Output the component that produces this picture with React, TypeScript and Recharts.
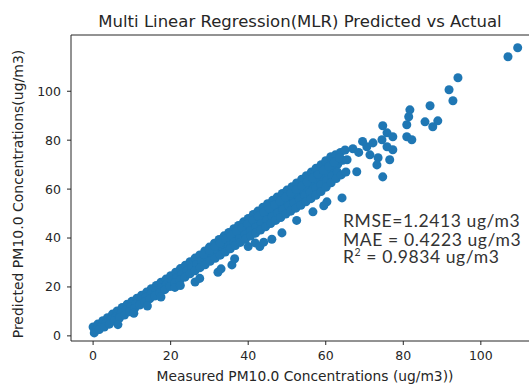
import {
  ReferenceLine,
  Scatter,
  ScatterChart,
  XAxis,
  YAxis,
  ZAxis,
} from "recharts";

const BLUE = "#1f77b4";
const INK = "#262626";
const FONT = "'DejaVu Sans', sans-serif";

// [measured, predicted]
const upperEdge: [number, number][] = [
  [0, 3.6], [1.2, 4.8], [2.5, 6.2], [3.7, 7.4], [5, 8.9], [6.2, 10.2], [7.5, 11.6],
  [8.8, 12.9], [10, 14.1], [11.3, 15.4], [12.5, 16.6], [13.8, 17.9], [15, 19.3],
  [16.3, 20.6], [17.5, 21.9], [18.8, 23.2], [20, 24.6], [21.3, 26.0], [22.5, 27.5],
  [23.8, 28.9], [25, 30.3], [26.3, 31.8], [27.5, 33.1], [28.8, 34.7], [30, 36.3],
  [31.3, 37.9], [32.5, 39.4], [33.8, 40.9], [35, 42.3], [36.3, 43.8], [37.5, 45.1],
  [38.8, 46.6], [40, 48], [41.3, 49.6], [42.5, 51], [43.8, 52.6], [45, 54],
  [46.3, 55.4], [47.5, 56.8], [48.8, 58.2], [50, 59.6], [51.3, 61], [52.5, 62.5],
  [53.8, 64], [55, 65.5], [56.3, 67], [57.5, 68.5], [58.8, 70], [60, 71.6],
  [61.3, 73.2], [62.5, 74], [63.8, 75], [65, 76],
];

const middleA: [number, number][] = [
  [0.7, 2.4], [2, 3.8], [3.3, 5.2], [4.6, 6.6], [5.9, 7.9], [7.2, 9.3], [8.5, 10.6],
  [9.8, 12], [11.1, 13.2], [12.4, 14.6], [13.7, 15.9], [15, 17.2], [16.3, 18.5],
  [17.6, 19.8], [18.9, 21.1], [20.2, 22.4], [21.5, 23.7], [22.8, 25.1], [24.1, 26.5],
  [25.4, 27.9], [26.7, 29.2], [28, 30.7], [29.3, 32.1], [30.6, 33.5], [31.9, 34.9],
  [33.2, 36.3], [34.5, 37.8], [35.8, 39.2], [37.1, 40.6], [38.4, 42.1], [39.7, 43.5],
  [41, 45], [42.3, 46.4], [43.6, 47.8], [44.9, 49.3], [46.2, 50.7], [47.5, 52.1],
  [48.8, 53.5], [50.1, 55], [51.4, 56.4], [52.7, 57.8], [54, 59.2], [55.3, 60.7],
  [56.6, 62.1], [57.9, 63.6], [59.2, 65.1], [60.5, 66.8], [61.8, 68.5], [63.1, 70.2],
  [64.4, 71.8],
];

const middleB: [number, number][] = [
  [28.5, 33.4], [30, 35], [31.4, 36.5], [32.8, 38], [34.2, 39.6], [35.6, 41.1],
  [37, 42.7], [38.4, 44.3], [39.8, 45.8], [41.2, 47.3], [42.6, 48.9], [44, 50.5],
  [45.4, 52], [46.8, 53.6], [48.2, 55.1], [49.6, 56.7], [51, 58.2], [52.4, 59.8],
  [53.8, 61.3], [55.2, 62.9], [56.6, 64.5], [58, 66], [59.4, 67.7], [60.8, 69.3],
  [62.2, 71], [63.6, 72.8],
];

const middleC: [number, number][] = [
  [35, 36.8], [36.4, 38.3], [37.8, 39.8], [39.2, 41.4], [40.6, 43], [42, 44.4],
  [43.4, 45.9], [44.8, 47.3], [46.2, 48.7], [47.6, 50.2], [49, 51.6], [50.4, 53.1],
  [51.8, 54.5], [53.2, 55.9], [54.6, 57.3], [56, 58.8], [57.4, 60.3], [58.8, 61.9],
  [60.2, 63.5], [61.6, 65.3], [63, 67],
];

const lowerEdge: [number, number][] = [
  [0.3, 1.2], [1.6, 2.6], [2.9, 3.6], [4.2, 4.8], [5.5, 6.2], [6.8, 7.3], [8.1, 8.5],
  [9.4, 9.9], [10.7, 11.2], [12, 12.6], [13.3, 13.8], [14.6, 15.1], [15.9, 16.3],
  [17.2, 17.6], [18.5, 18.9], [19.8, 20.2], [21.1, 21.6], [22.4, 22.8], [23.7, 24.0],
  [25, 25.4], [26.3, 26.6], [27.6, 27.9], [28.9, 29.1], [30.2, 30.5], [31.5, 31.7],
  [32.8, 33.0], [34.1, 34.3], [35.4, 35.6], [36.7, 36.9], [38, 38.2], [39.3, 39.5],
  [40.6, 40.8], [41.9, 42.0], [43.2, 43.3], [44.5, 44.6], [45.8, 45.9], [47.1, 47.2],
  [48.4, 48.4], [49.7, 49.8], [51, 51], [52.3, 52.2], [53.6, 53.4], [54.9, 54.8],
  [56.2, 56.1], [57.5, 57.5], [58.8, 59], [60.1, 60.8], [61.4, 62.6], [62.7, 64.3],
  [64, 65.8], [65.2, 67],
];

const lowerTail: [number, number][] = [
  [6.4, 4.6], [10.5, 9.2], [14, 12.2], [17.5, 15.9], [21.1, 19.8], [22.5, 20.6],
  [26.3, 22], [27.5, 23.5], [32.2, 26], [33, 27.4], [35.8, 29], [36.5, 31.5],
  [40, 36.5], [41.8, 38], [43, 36.5], [44, 38.3], [46.1, 39.5], [48.7, 42.1],
  [52.5, 47.2], [56.7, 50.7], [60.3, 54.8], [59.5, 53.2], [64.2, 56.4],
];

const upperRange: [number, number][] = [
  [65.5, 72], [67, 76.5], [68, 67.1], [68.5, 75], [69.5, 79.5], [70.6, 77.3],
  [72.2, 78.9], [74.5, 80.2], [75.8, 77.3], [77.3, 76.1], [71.4, 74], [73.5, 72.8],
  [76.5, 72], [73.2, 69.9], [74.7, 65], [74.7, 85.9], [75.8, 83], [77.3, 81.4],
  [80.9, 86.3], [80.9, 81.4], [82.2, 80.2], [81.7, 92.4], [81.4, 89.6], [85.6, 87.5],
  [87.6, 85.5], [88.9, 87.9], [86.9, 94.1], [91.8, 100.6], [92.8, 96.1], [94.1, 105.5],
  [107, 114.1], [109.5, 117.8],
];

const xTicks = [0, 20, 40, 60, 80, 100];
const yTicks = [0, 20, 40, 60, 80, 100];

const X_MIN = -5.7;
const X_MAX = 115;
const Y_MIN = -2.1;
const Y_MAX = 123;

const points = [
  ...upperEdge,
  ...middleA,
  ...middleB,
  ...middleC,
  ...lowerEdge,
  ...lowerTail,
  ...upperRange,
].map(([measured, predicted]) => ({ measured, predicted }));

const tickStyle = { fontSize: 12.5, fill: INK, fontFamily: FONT };

export default function App() {
  return (
    <div style={{ position: "absolute", left: 0, top: 0, width: 529, height: 385, overflow: "hidden", background: "white" }}>
      <ScatterChart width={560} height={385} margin={{ top: 35, right: 21, bottom: 14, left: 0 }}>
        <XAxis
          type="number"
          dataKey="measured"
          domain={[X_MIN, X_MAX]}
          ticks={xTicks}
          allowDataOverflow
          height={30}
          tickSize={4}
          tickMargin={6}
          tick={tickStyle}
          stroke={INK}
          tickLine={{ stroke: INK }}
        />
        <YAxis
          type="number"
          dataKey="predicted"
          domain={[Y_MIN, Y_MAX]}
          ticks={yTicks}
          allowDataOverflow
          width={71}
          tickSize={4}
          tickMargin={6}
          tick={tickStyle}
          stroke={INK}
          tickLine={{ stroke: INK }}
        />
        <ZAxis range={[48, 48]} />
        <ReferenceLine y={Y_MAX} stroke={INK} />
        <Scatter data={points} fill={BLUE} isAnimationActive={false} />
      </ScatterChart>
      <svg
        width={529}
        height={385}
        style={{ position: "absolute", left: 0, top: 0, pointerEvents: "none" }}
      >
        <text x={300} y={27} textAnchor="middle" fontSize={16.5} fontFamily={FONT} fill={INK}>
          Multi Linear Regression(MLR) Predicted vs Actual
        </text>
        <text x={305} y={381} textAnchor="middle" fontSize={13.8} fontFamily={FONT} fill={INK}>
          Measured PM10.0 Concentrations (ug/m3))
        </text>
        <text
          x={23}
          y={194}
          textAnchor="middle"
          fontSize={14}
          fontFamily={FONT}
          fill={INK}
          transform="rotate(-90 23 194)"
        >
          Predicted PM10.0 Concentrations(ug/m3)
        </text>
        <g fontFamily="Lato, sans-serif" fontSize={17.5} letterSpacing={0.6} fill="#333">
          <text x={343} y={227}>RMSE=1.2413 ug/m3</text>
          <text x={343} y={245.5}>MAE = 0.4223 ug/m3</text>
          <text x={343} y={262.5}>
            R<tspan fontSize={10.5} dy={-7}>2</tspan>
            <tspan dy={7}> = 0.9834 ug/m3</tspan>
          </text>
        </g>
      </svg>
    </div>
  );
}
